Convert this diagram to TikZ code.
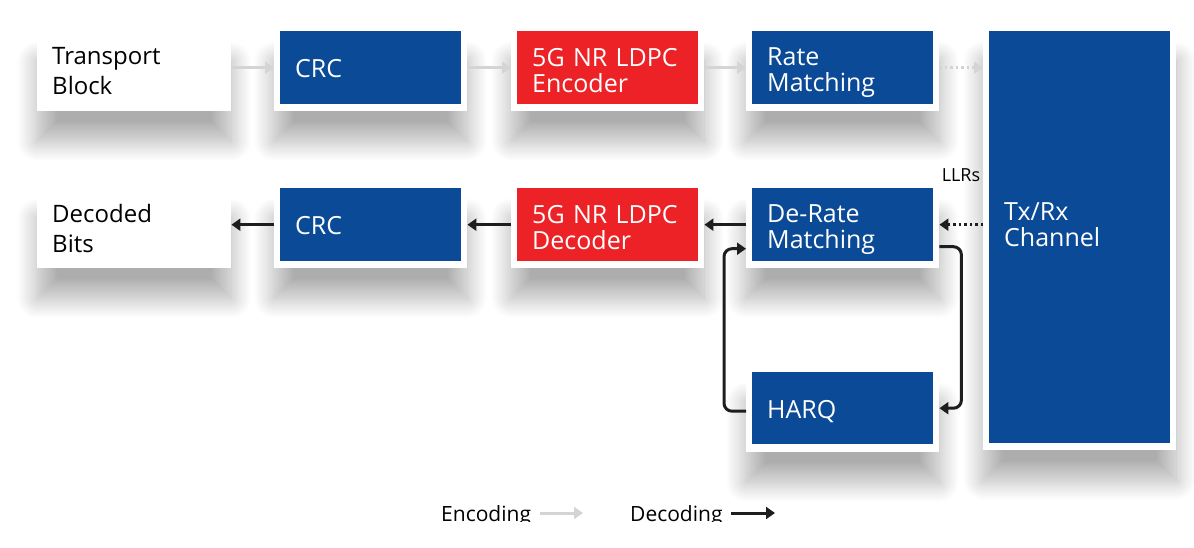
\documentclass[tikz,border=0pt]{standalone}
\usepackage{fontspec}
\setmainfont{Open Sans}
\usetikzlibrary{shadows.blur,arrows.meta}
\definecolor{nblue}{HTML}{0A4A96}
\definecolor{nred}{HTML}{EC2227}
\definecolor{agray}{HTML}{D4D4D4}
\definecolor{ablack}{HTML}{1E1E1E}
\newcommand{\shiftdown}[2]{\raisebox{-#1}[\height][\depth]{\parbox{151pt}{#2}}}
\begin{document}
\begin{tikzpicture}[x=1pt,y=-1pt,
  card/.style={fill=white, blur shadow={shadow xshift=0pt, shadow yshift=-30pt, shadow blur radius=20pt, shadow blur steps=20, shadow opacity=32}},
  blk/.style={font=\fontsize{25}{26}\selectfont, text=white, align=left, anchor=north west,
    minimum width=181pt, minimum height=73pt, text width=151pt, inner xsep=15pt, inner ysep=0pt, fill=nblue},
  redblk/.style={blk, fill=nred},
  plain/.style={card, font=\fontsize{24}{30}\selectfont, text=black, align=left, anchor=north west,
    minimum width=194pt, minimum height=80pt, text width=164pt, inner xsep=15pt, inner ysep=0pt},
  encarrow/.style={draw=agray, line width=3pt, -{Triangle[length=9pt,width=12pt]}},
  decarrow/.style={draw=ablack, line width=3pt, -{Triangle[length=9pt,width=12pt]}},
  dotline/.style={dash pattern=on 2.5pt off 3pt}
]
\useasboundingbox (0,0) rectangle (1194,547);
% plain cards
\node[plain] (tb) at (37,31) {Transport\\Block};
\node[plain] (db) at (37,188) {Decoded\\Bits};
% block positions
\path
  (280,31) coordinate (pA) (517,31) coordinate (pB) (752,31) coordinate (pC)
  (280,188) coordinate (pD) (517,188) coordinate (pE) (752,188) coordinate (pF)
  (752,372) coordinate (pG);
% cards behind blocks
\foreach \p in {pA,pB,pC,pD,pE,pF,pG}{
  \fill[card] ([xshift=-6pt]\p) rectangle ([xshift=187pt,yshift=-80pt]\p);
}
\fill[card] (983,31) rectangle (1176,450);
\node[blk] (crcA) at (pA) {\shiftdown{1pt}{CRC}};
\node[redblk] (enc) at (pB) {\shiftdown{3pt}{5G NR LDPC\\Encoder}};
\node[blk] (rm) at (pC) {\shiftdown{5pt}{Rate\\Matching}};
\node[blk] (crcB) at (pD) {\shiftdown{1pt}{CRC}};
\node[redblk] (dec) at (pE) {\shiftdown{3pt}{5G NR LDPC\\Decoder}};
\node[blk] (drm) at (pF) {\shiftdown{5pt}{De-Rate\\Matching}};
\node[blk, minimum height=72pt] (harq) at (pG) {\shiftdown{3pt}{HARQ}};
\node[blk, minimum height=412pt] (tx) at (989,31) {\shiftdown{-13pt}{Tx/Rx\\Channel}};
\node[font=\fontsize{18}{20}\selectfont] (llr) at (961,175) {LLRs};
% encoding arrows
\draw[encarrow] (tb.east |- crcA.west) -- ([xshift=-6pt]crcA.west);
\draw[encarrow] ([xshift=6pt]crcA.east) -- ([xshift=-6pt]enc.west);
\draw[encarrow] ([xshift=6pt]enc.east) -- ([xshift=-6pt]rm.west);
\draw[encarrow, dotline] ([xshift=6pt]rm.east) -- ([xshift=-6pt]tx.west |- rm.east);
% decoding arrows
\draw[decarrow, dotline] ([xshift=-6pt]tx.west |- drm.east) -- ([xshift=6pt]drm.east);
\draw[decarrow] ([xshift=-6pt]drm.west) -- ([xshift=6pt]dec.east);
\draw[decarrow] ([xshift=-6pt]dec.west) -- ([xshift=6pt]crcB.east);
\draw[decarrow] ([xshift=-6pt]crcB.west) -- (db.east |- crcB.west);
% HARQ loop
\draw[decarrow, rounded corners=8pt] ([xshift=6pt,yshift=-22pt]drm.east) -- ++(22,0) |- ([xshift=6pt]harq.east);
\draw[decarrow, rounded corners=8pt] ([xshift=-6pt,yshift=-3pt]harq.west) -- ++(-22,0) |- ([xshift=-6pt,yshift=-24pt]drm.west);
% legend
\begin{scope}
\clip (0,0) rectangle (1194,521);
\node[font=\fontsize{21}{24}\selectfont, anchor=base west, inner sep=0pt] (le) at (441,521) {Encoding};
\coordinate (leA) at (540,513);
\coordinate (leB) at (583,513);
\draw[encarrow] (leA) -- (leB);
\node[font=\fontsize{21}{24}\selectfont, anchor=base west, inner sep=0pt] (ld) at (630,521) {Decoding};
\coordinate (ldA) at (731,513);
\coordinate (ldB) at (775,513);
\draw[decarrow] (ldA) -- (ldB);
\end{scope}
\end{tikzpicture}
\end{document}
